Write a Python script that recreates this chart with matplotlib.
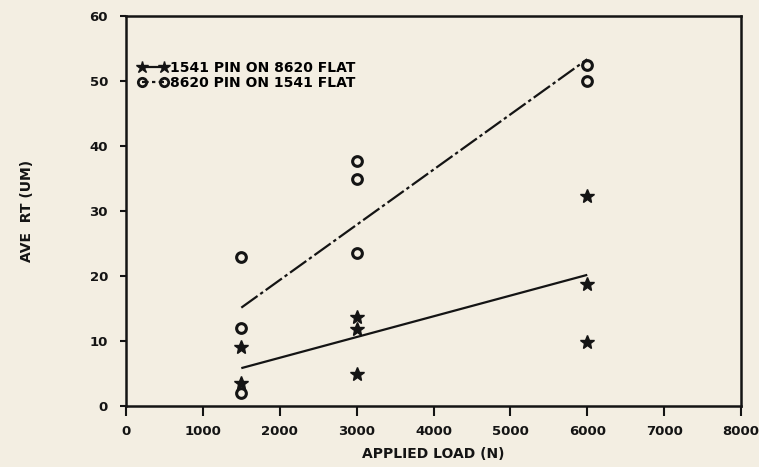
import numpy as np
import matplotlib.pyplot as plt

# applied load (N) and average RT (um)
load_1541_pin = [1500, 1500, 3000, 3000, 3000, 6000, 6000, 6000]
rt_1541_pin = [9.1, 3.5, 13.7, 11.8, 4.9, 32.3, 18.8, 9.9]

load_8620_pin = [1500, 1500, 1500, 3000, 3000, 3000, 6000, 6000]
rt_8620_pin = [23.0, 12.0, 2.0, 37.7, 35.0, 23.5, 52.5, 50.0]

fit_range = [1500, 6000]

x_ticks = [0, 1000, 2000, 3000, 4000, 5000, 6000, 7000, 8000]
y_ticks = [0, 10, 20, 30, 40, 50, 60]

label_1541 = "1541 PIN ON 8620 FLAT"
label_8620 = "8620 PIN ON 1541 FLAT"

bg = '#f3eee2'
ink = '#141414'

plt.rcParams['font.family'] = 'DejaVu Sans'
plt.rcParams['font.weight'] = 'bold'

fig = plt.figure(figsize=(7.59, 4.67), dpi=100, facecolor=bg)
ax = fig.add_axes([126 / 759, 1 - 406 / 467, 615 / 759, 390 / 467])
ax.set_facecolor(bg)

# least squares lines through each data set
xf = np.array(fit_range)
p1 = np.polyfit(load_1541_pin, rt_1541_pin, 1)
p2 = np.polyfit(load_8620_pin, rt_8620_pin, 1)
ax.plot(xf, np.polyval(p1, xf), color=ink, lw=1.6, solid_capstyle='butt')
l2, = ax.plot(xf, np.polyval(p2, xf), color=ink, lw=1.6)
l2.set_dashes([9, 1.5, 1.5, 1.5])

ax.plot(load_1541_pin, rt_1541_pin, ls='none', marker='*', ms=10,
        color=ink, mec=ink)
ax.plot(load_8620_pin, rt_8620_pin, ls='none', marker='o', ms=7,
        mfc='none', mec=ink, mew=2.2)

# legend handles
h1, = ax.plot([], [], color=ink, lw=1.6, marker='*', ms=9)
h2, = ax.plot([], [], color=ink, lw=1.6, marker='o', ms=6, mfc='none', mew=2)
h2.set_dashes([3, 1.5, 1.5, 1.5])
leg = ax.legend([h1, h2], [label_1541, label_8620], loc='upper left',
                bbox_to_anchor=(0.014, 0.892), frameon=False, numpoints=2,
                handlelength=2.2, handletextpad=0.15, labelspacing=0.05,
                borderaxespad=0.0, borderpad=0.2,
                prop={'size': 10, 'weight': 'bold'})

ax.set_xlim(0, 8000)
ax.set_ylim(0, 60)
ax.set_xticks(x_ticks)
ax.set_yticks(y_ticks)
ax.set_xticklabels([str(t) for t in x_ticks], fontsize=9.5, fontweight='bold')
ax.set_yticklabels([str(t) for t in y_ticks], fontsize=9.5, fontweight='bold')
ax.tick_params(axis='x', direction='out', length=7, width=1.5, pad=7, colors=ink)
ax.tick_params(axis='y', direction='out', length=4, width=1.5, pad=9, colors=ink)

for s in ax.spines.values():
    s.set_linewidth(1.8)
    s.set_color(ink)

ax.set_xlabel("APPLIED LOAD (N)", fontsize=10, fontweight='bold', labelpad=6, color=ink)
ax.set_ylabel("AVE  RT (UM)", fontsize=10, fontweight='bold', color=ink)
ax.yaxis.set_label_coords(-0.15, 0.5)

fig.savefig('out.png', dpi=100, facecolor=bg)
